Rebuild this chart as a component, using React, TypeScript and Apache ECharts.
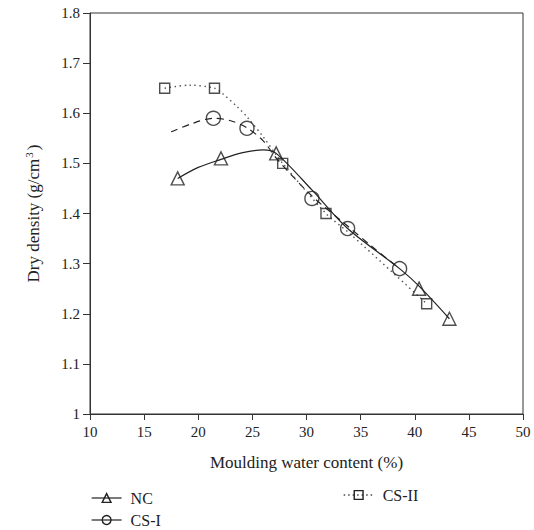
import React, { useEffect, useRef } from "react";
import * as echarts from "echarts";

// Measured points
const ncX = [18.1, 22.1, 27.2, 40.4, 43.2];
const ncY = [1.47, 1.51, 1.52, 1.25, 1.19];
const csiX = [21.4, 24.5, 30.5, 33.8, 38.6];
const csiY = [1.59, 1.57, 1.43, 1.37, 1.29];
const csiiX = [16.9, 21.5, 27.8, 31.8, 41.1];
const csiiY = [1.65, 1.65, 1.5, 1.4, 1.22];

// Fitted curves
const ncCurveX = [18.1, 20, 22.1, 24, 26, 27.2, 30.5, 33.8, 38.6, 40.4, 43.2];
const ncCurveY = [1.47, 1.492, 1.508, 1.521, 1.527, 1.52, 1.447, 1.37, 1.29, 1.255, 1.19];
const csiCurveX = [17.5, 19.5, 21.4, 23, 24.5, 26, 27.3, 30.5, 33.8, 36, 38.6];
const csiCurveY = [1.563, 1.58, 1.59, 1.585, 1.571, 1.545, 1.508, 1.435, 1.375, 1.335, 1.29];
const csiiCurveX = [16.9, 19.2, 21.5, 22.2, 23.6, 24.5, 26, 27, 27.8, 31.8, 34, 41.1];
const csiiCurveY = [1.65, 1.656, 1.65, 1.64, 1.613, 1.593, 1.553, 1.523, 1.5, 1.4, 1.36, 1.22];

const xTicks = { min: 10, max: 50, interval: 5 };
const yTicks = { min: 1, max: 1.8, interval: 0.1 };

const FONT = "Liberation Serif";
const INK = "#222";

const zip = (xs: number[], ys: number[]) => xs.map((x, i) => [x, ys[i]]);

export default function App() {
  const ref = useRef<HTMLDivElement>(null);
  useEffect(() => {
    if (!ref.current) return;
    const chart = echarts.init(ref.current, undefined, { renderer: "svg" });
    const hollow = { color: "rgba(0,0,0,0)", borderColor: INK, borderWidth: 1.4 };
    const curve = (name: string, xs: number[], ys: number[], symbol: string, type: any, width: number, color: string) => ({
      name,
      type: "line",
      data: zip(xs, ys),
      smooth: 0.3,
      symbol,
      symbolSize: 11,
      showSymbol: false,
      itemStyle: hollow,
      lineStyle: { color, width, type },
      z: 2,
    });
    const pts = (name: string, xs: number[], ys: number[], symbol: string, size: number) => ({
      name,
      type: "scatter",
      data: zip(xs, ys),
      symbol,
      symbolSize: size,
      itemStyle: hollow,
      z: 5,
    });
    const legendText = { fontFamily: FONT, fontSize: 16, color: INK, padding: [0, 0, 0, 4] };
    const legend = (name: string, lineStyle: any, left: number, top: number) => ({
      data: [{ name, lineStyle }],
      left,
      top,
      padding: 0,
      itemWidth: 30,
      itemHeight: 11,
      textStyle: legendText,
      itemStyle: hollow,
    });
    chart.setOption({
      animation: false,
      backgroundColor: "#fff",
      textStyle: { fontFamily: FONT },
      grid: { left: 90, right: 11, top: 13, bottom: 116, show: true, borderColor: "#333", borderWidth: 1 },
      legend: [
        legend("NC", { type: "solid", color: INK, width: 1.2 }, 91, 490),
        legend("CS-I", { type: "solid", color: INK, width: 1.2 }, 91, 512),
        legend("CS-II", { type: [1.5, 3], color: "#444", width: 1.3 }, 343, 487),
      ],
      xAxis: {
        type: "value",
        min: xTicks.min,
        max: xTicks.max,
        interval: xTicks.interval,
        name: "Moulding water content (%)",
        nameLocation: "middle",
        nameGap: 40,
        nameTextStyle: { fontFamily: FONT, fontSize: 17, color: INK },
        axisLine: { lineStyle: { color: "#333", width: 1 } },
        axisTick: { inside: false, length: 6, lineStyle: { color: "#333" } },
        axisLabel: { fontFamily: FONT, fontSize: 15, color: INK, margin: 10 },
        splitLine: { show: false },
      },
      yAxis: {
        type: "value",
        min: yTicks.min,
        max: yTicks.max,
        interval: yTicks.interval,
        name: "Dry density (g/cm{sup|3})",
        nameLocation: "middle",
        nameGap: 47,
        nameTextStyle: {
          fontFamily: FONT,
          fontSize: 17,
          color: INK,
          rich: { sup: { fontFamily: FONT, fontSize: 11, color: INK, padding: [0, 2, 9, 1] } },
        },
        axisLine: { show: true, lineStyle: { color: "#333", width: 1 } },
        axisTick: { show: true, inside: false, length: 7, lineStyle: { color: "#333" } },
        axisLabel: { fontFamily: FONT, fontSize: 15, color: INK, margin: 10 },
        splitLine: { show: false },
      },
      series: [
        curve("NC", ncCurveX, ncCurveY, "triangle", "solid", 1.2, INK),
        curve("CS-I", csiCurveX, csiCurveY, "circle", [7, 5], 1.2, INK),
        curve("CS-II", csiiCurveX, csiiCurveY, "rect", [1.5, 3.5], 1.4, "#555"),
        pts("NC points", ncX, ncY, "triangle", 13),
        pts("CS-I points", csiX, csiY, "circle", 14),
        pts("CS-II points", csiiX, csiiY, "rect", 10),
      ],
    });
    return () => chart.dispose();
  }, []);
  return <div ref={ref} style={{ width: 534, height: 530, position: "absolute", left: 0, top: 0 }} />;
}
